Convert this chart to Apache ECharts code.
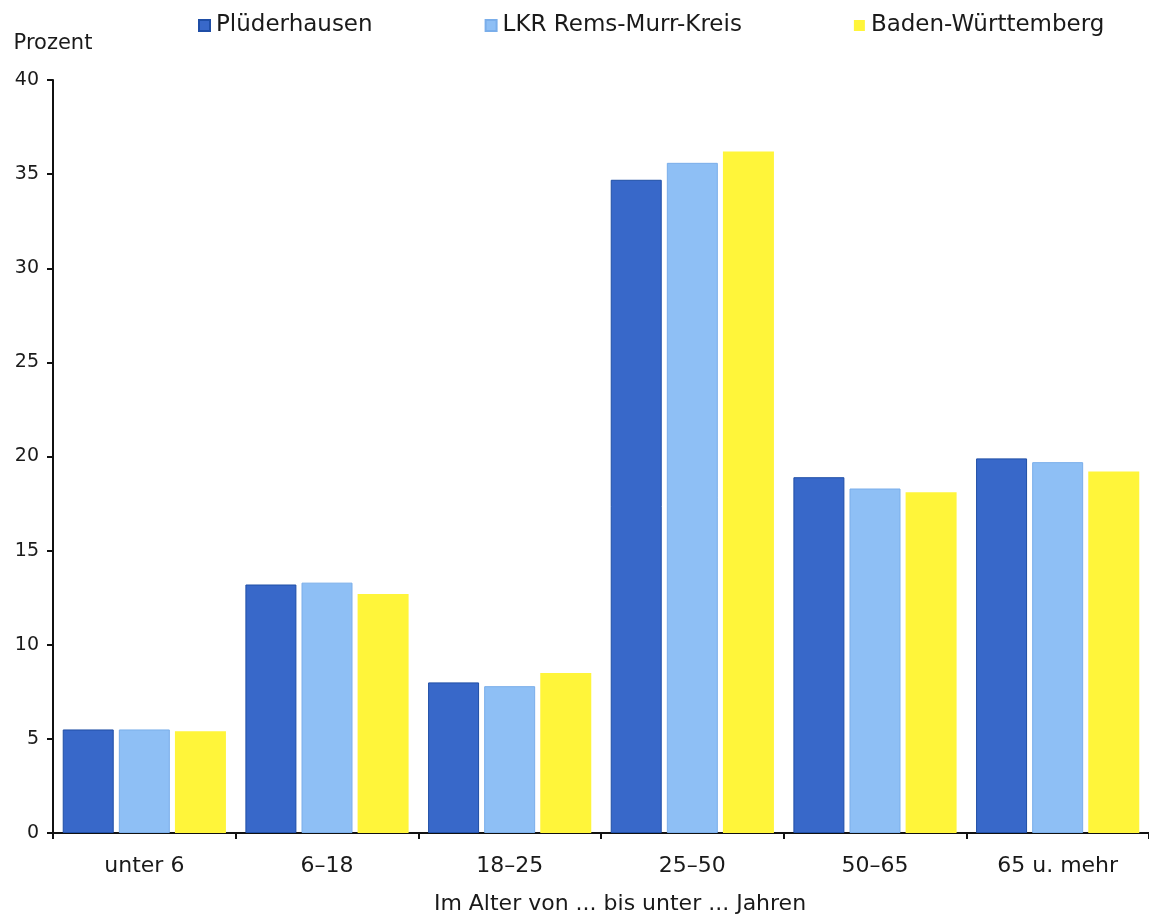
<!DOCTYPE html>
<html>
<head>
<meta charset="utf-8">
<script src="https://cdn.jsdelivr.net/npm/echarts@6/dist/echarts.min.js"></script>
<style>
html,body{margin:0;padding:0;background:#fff;}
#chart{width:1149px;height:920px;}
</style>
</head>
<body>
<div id="chart"></div>
<script>
const categories = ['unter 6', '6\u201318', '18\u201325', '25\u201350', '50\u201365', '65 u. mehr'];
const seriesNames = ['Plüderhausen', 'LKR Rems-Murr-Kreis', 'Baden-Württemberg'];
const pluederhausen = [5.5, 13.2, 8.0, 34.7, 18.9, 19.9];
const remsMurr = [5.5, 13.3, 7.8, 35.6, 18.3, 19.7];
const badenWuerttemberg = [5.4, 12.7, 8.5, 36.2, 18.1, 19.2];
const yTicks = [0, 5, 10, 15, 20, 25, 30, 35, 40];

const font = 'DejaVu Sans';
const txt = '#1a1a1a';
const chart = echarts.init(document.getElementById('chart'));
chart.setOption({
  backgroundColor: '#ffffff',
  animation: false,
  textStyle: { fontFamily: font, color: txt },
  legend: {
    top: 9, left: 193, itemGap: 112, itemWidth: 11, itemHeight: 11,
    icon: 'rect',
    textStyle: { fontFamily: font, fontSize: 23, color: txt, padding: [0, 0, 0, 1] },
    data: seriesNames
  },
  grid: { left: 53, right: 0, top: 80, bottom: 80, containLabel: false },
  xAxis: {
    type: 'category',
    data: categories,
    name: 'Im Alter von ... bis unter ... Jahren',
    nameLocation: 'middle',
    nameGap: 60,
    nameTextStyle: { fontFamily: font, fontSize: 22, color: txt, padding: [0, 0, 0, 38] },
    axisLine: { lineStyle: { color: '#111', width: 2 } },
    axisTick: { show: true, alignWithLabel: false, length: 6, lineStyle: { color: '#111', width: 2 } },
    axisLabel: { fontFamily: font, fontSize: 22, color: txt, margin: 22 },
    splitLine: { show: false }
  },
  yAxis: {
    type: 'value',
    min: yTicks[0], max: yTicks[yTicks.length - 1], interval: yTicks[1] - yTicks[0],
    name: 'Prozent',
    nameLocation: 'end',
    nameGap: 26,
    nameTextStyle: { fontFamily: font, fontSize: 21, color: txt, align: 'center' },
    axisLine: { show: true, lineStyle: { color: '#111', width: 2 } },
    axisTick: { show: true, length: 6, lineStyle: { color: '#111', width: 2 } },
    axisLabel: { fontFamily: font, fontSize: 19, color: txt, margin: 14 },
    splitLine: { show: false }
  },
  series: [
    { name: seriesNames[0], type: 'bar', data: pluederhausen, barWidth: 51, barGap: '10%',
      itemStyle: { color: '#3868c9', borderColor: '#1f4ea6', borderWidth: 1 } },
    { name: seriesNames[1], type: 'bar', data: remsMurr, barWidth: 51, barGap: '10%',
      itemStyle: { color: '#8ebff5', borderColor: '#7aaeea', borderWidth: 1 } },
    { name: seriesNames[2], type: 'bar', data: badenWuerttemberg, barWidth: 51, barGap: '10%',
      itemStyle: { color: '#fff53a' } }
  ]
});
</script>
</body>
</html>
